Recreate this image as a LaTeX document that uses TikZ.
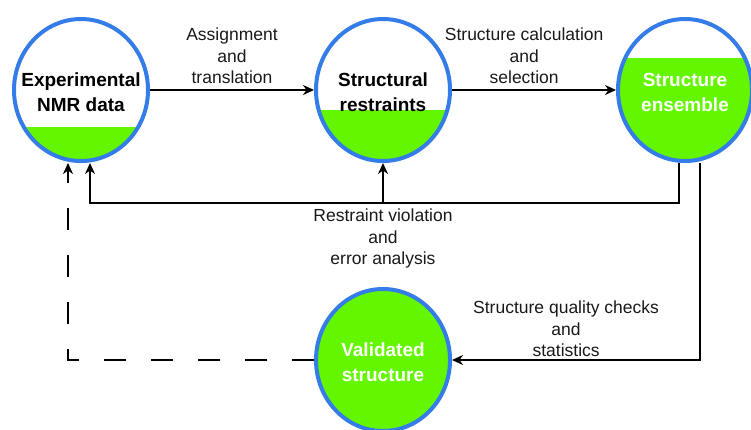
\documentclass[tikz,border=0pt]{standalone}
\usepackage{fontspec}
\setmainfont{Liberation Sans}
\usetikzlibrary{arrows.meta,calc,positioning,shapes.geometric}
\definecolor{nmrblue}{RGB}{52,125,232}
\definecolor{nmrgreen}{RGB}{100,245,0}
\tikzset{%
	stage/.style     = {ellipse, draw=nmrblue, line width=4pt, minimum width=134pt, minimum height=142pt, inner sep=0pt,
		path picture={\fill[nmrgreen] (path picture bounding box.south west) rectangle ([yshift=#1]path picture bounding box.south east);}}, % vessel
	stagetext/.style = {align=center, font=\fontsize{19pt}{25pt}\selectfont\bfseries, inner sep=0pt}, % vessel text
	note/.style      = {align=center, font=\fontsize{17.5pt}{21.5pt}\selectfont, text=black!90, inner sep=5pt}, % step label
	flow/.style      = {line width=2pt, -{Stealth[length=11pt,width=10pt,inset=3.5pt]}},
	dashflow/.style  = {flow, dash pattern=on 22pt off 25pt},
}
\begin{document}
\begin{tikzpicture}[x=1pt, y=-1pt, node distance=302pt]
		\useasboundingbox (0,0) rectangle (751,429);
		\node[stage=34pt] (exp) at (81,90) {};
		\node[stage=51pt, right of=exp] (str) {};
		\node[stage=103pt, right of=str] (ens) {};
		\node[stage=150pt, below of=str, node distance=270pt] (val) {};
		\node[stagetext, yshift=-2pt] (exp-t) at (exp) {Experimental\\NMR data};
		\node[stagetext, yshift=-2pt] (str-t) at (str) {Structural\\restraints};
		\node[stagetext, yshift=-2pt, text=white] (ens-t) at (ens) {Structure\\ensemble};
		\node[stagetext, yshift=-2pt, text=white] (val-t) at (val) {Validated\\structure};
		\coordinate (fb) at (0,203);
		\draw[flow] (exp) -- node[note, above] {Assignment\\and\\translation} (str);
		\draw[flow] (str) -- node[note, above, pos=0.44] {Structure calculation\\and\\selection} (ens);
		\draw[flow] ([xshift=-6pt]ens.south) |- ([xshift=9pt]exp.south |- fb) -- ([xshift=9pt]exp.south);
		\draw[flow] (str.south |- fb) node[note, below] {Restraint violation\\and\\error analysis} -- (str.south);
		\draw[flow] ([xshift=15pt]ens.south) |- node[note, above, pos=0.77, inner sep=2pt] {Structure quality checks\\and\\statistics} (val.east);
		\draw[dashflow] (val.west) -| ([xshift=-13pt]exp.south);
		\end{tikzpicture}
\end{document}
